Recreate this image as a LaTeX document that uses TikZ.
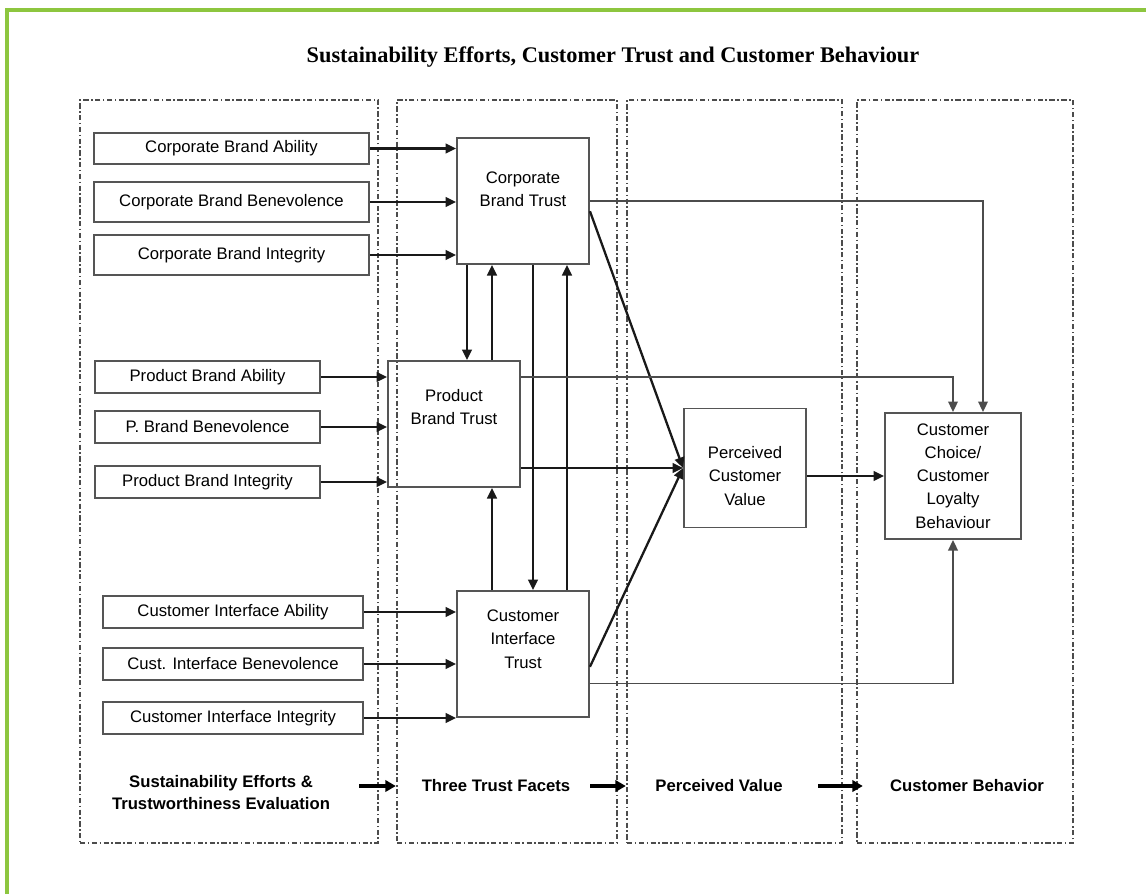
\documentclass[tikz,border=0pt]{standalone}
\usepackage{fontspec}
\setmainfont{Liberation Sans}
\newfontfamily\titlefont{Liberation Serif}
\usetikzlibrary{arrows.meta, positioning, calc}

\definecolor{framegreen}{RGB}{141,198,63}
\definecolor{boxgray}{RGB}{85,85,85}

\tikzset{
  column/.style={draw=black!70, line width=1.4pt, dash pattern=on 3pt off 1.4pt on 0.9pt off 1.4pt,
    minimum height=14.86cm, inner sep=0},
  factor/.style={draw=boxgray, line width=1.1pt, inner sep=0, minimum height=0.64cm},
  trust/.style={draw=boxgray, line width=1.1pt, inner sep=0, minimum width=2.64cm, minimum height=2.52cm},
  boxtext/.style={align=center},
  link/.style={draw=black!90, line width=1.3pt, -{Triangle[length=6pt,width=5.5pt]}},
  thinlink/.style={draw=black!70, line width=0.9pt, -{Triangle[length=6pt,width=5.5pt]}},
  stage/.style={line width=2pt, -{Triangle[length=6pt,width=6.5pt]}},
  stagelabel/.style={font=\fontsize{9.5}{12.5}\selectfont\bfseries, align=center},
}

\begin{document}
\begin{tikzpicture}[x=0.02cm, y=-0.02cm, every node/.style={font=\fontsize{9.5}{13.2}\selectfont}]
  \useasboundingbox (0,0) rectangle (1146,893);
  \draw[framegreen, line width=1.8pt] (7,900) |- (1160,10);

  \node[font=\titlefont\bfseries\fontsize{12.7}{15}\selectfont] (title) at (613,57)
    {Sustainability Efforts, Customer Trust and Customer Behaviour};

  % Four stages
  \node[column, minimum width=5.96cm] (col1) at (229,471.5) {};
  \node[column, minimum width=4.4cm] (col2) at (507,471.5) {};
  \node[column, minimum width=4.3cm] (col3) at (734.5,471.5) {};
  \node[column, minimum width=4.32cm] (col4) at (965,471.5) {};

  % Trustworthiness inputs
  \node[factor, minimum width=5.5cm, minimum height=0.62cm] (cba) at (231.5,148.5) {Corporate Brand Ability};
  \node[factor, minimum width=5.5cm, minimum height=0.8cm] (cbb) at (231.5,202) {Corporate Brand Benevolence};
  \node[factor, minimum width=5.5cm, minimum height=0.8cm] (cbi) at (231.5,255) {Corporate Brand Integrity};
  \node[factor, minimum width=4.5cm] (pba) at (207.5,377) {Product Brand Ability};
  \node[factor, minimum width=4.5cm] (pbb) at (207.5,427) {P. Brand Benevolence};
  \node[factor, minimum width=4.5cm] (pbi) at (207.5,482) {Product Brand Integrity};
  \node[factor, minimum width=5.2cm] (cia) at (233,612) {Customer Interface Ability};
  \node[factor, minimum width=5.2cm] (cib) at (233,664) {Cust. Interface Benevolence};
  \node[factor, minimum width=5.2cm] (cii) at (233,718) {Customer Interface Integrity};

  % Trust facets, value and behaviour
  \node[trust, label={[boxtext, yshift=6.5pt]center:Corporate\\Brand Trust}] (cbt) at (523,201) {};
  \node[trust, label={[boxtext, yshift=9.6pt]center:Product\\Brand Trust}] (pbt) at (454,424) {};
  \node[trust, label={[boxtext, yshift=8.5pt]center:Customer\\Interface\\Trust}] (cit) at (523,654) {};
  \node[trust, minimum width=2.44cm, minimum height=2.38cm,
    label={[boxtext, yshift=-4.5pt]center:Perceived\\Customer\\Value}] (pcv) at (745,468) {};
  \node[trust, minimum width=2.72cm,
    label={[boxtext]center:Customer\\Choice/\\Customer\\Loyalty\\Behaviour}] (cc) at (953,476) {};

  \foreach \src/\dst in {cba/cbt, cbb/cbt, cbi/cbt, pba/pbt, pbb/pbt, pbi/pbt, cia/cit, cib/cit, cii/cit}
    \draw[link] (\src.east) -- (\src.east -| \dst.west);

  % links between the facets
  \coordinate (va) at (467,0);
  \coordinate (vb) at (492,0);
  \coordinate (vc) at (533,0);
  \coordinate (vd) at (567,0);
  \draw[link] (cbt.south -| va) -- (pbt.north -| va);
  \draw[link] (pbt.north -| vb) -- (cbt.south -| vb);
  \draw[link] (cit.north -| vb) -- (pbt.south -| vb);
  \draw[link] (cbt.south -| vc) -- (cit.north -| vc);
  \draw[link] (cit.north -| vd) -- (cbt.south -| vd);

  % into perceived value
  \draw[link] ($(cbt.north east)!0.58!(cbt.south east)$) -- (pcv.west);
  \draw[link] (pcv.west -| pbt.east) -- (pcv.west);
  \draw[link] ($(cit.north east)!0.6!(cit.south east)$) -- (pcv.west);
  \draw[link] (pcv.east |- cc.west) -- (cc.west);

  % direct paths to behaviour
  \draw[thinlink] (cbt.east) -| ($(cc.north)+(30,0)$);
  \draw[thinlink] (pbt.east |- pba) -| (cc.north);
  \draw[thinlink] ($(cit.north east)!0.73!(cit.south east)$) -| (cc.south);

  % stage captions
  \node[stagelabel] (lab1) at (221,793) {Sustainability Efforts \&\\Trustworthiness Evaluation};
  \node[stagelabel] (lab2) at (496,786) {Three Trust Facets};
  \node[stagelabel] (lab3) at (719,786) {Perceived Value};
  \node[stagelabel] (lab4) at (967,786) {Customer Behavior};
  \draw[stage] ($(col1.east |- lab2)+(-20,0)$) -- (col2.west |- lab2);
  \draw[stage] ($(col2.east |- lab3)+(-28,0)$) -- (col3.west |- lab3);
  \draw[stage] ($(col3.east |- lab4)+(-25,0)$) -- ($(col4.west |- lab4)+(7,0)$);
\end{tikzpicture}
\end{document}
